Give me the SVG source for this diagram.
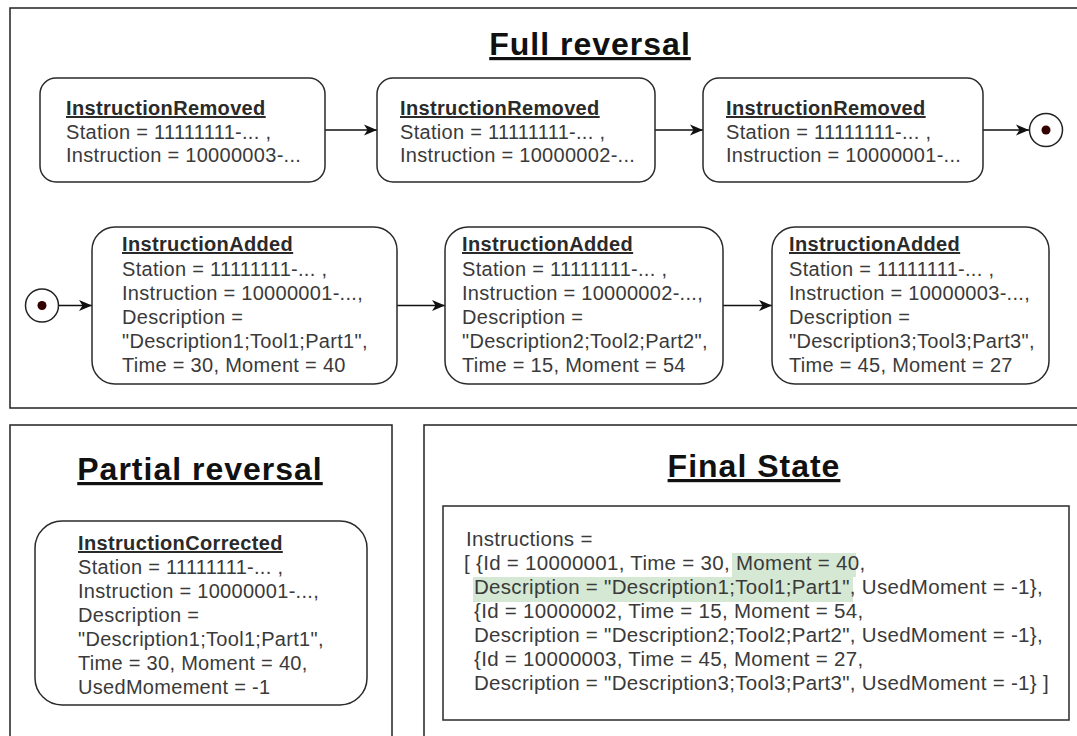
<svg xmlns="http://www.w3.org/2000/svg" width="1077" height="736" viewBox="0 0 1077 736">
<style>
.sec{fill:#fff;stroke:#222;stroke-width:1.5}
.box{fill:#fff;stroke:#2a2a2a;stroke-width:1.5}
.h{font-family:"Liberation Sans",Arial,sans-serif;font-weight:bold;font-size:32px;fill:#111;text-decoration:underline;letter-spacing:1px}
.t{font-family:"Liberation Sans",Arial,sans-serif;font-size:20px;fill:#3a3a3a;letter-spacing:0.3px}
.tb{font-weight:bold;text-decoration:underline;fill:#2a2a2a;letter-spacing:0.35px}
.f{font-family:"Liberation Sans",Arial,sans-serif;font-size:20.5px;fill:#3a3a3a;letter-spacing:0.3px}
.con{stroke:#111;stroke-width:1.5;fill:none}
.ring{fill:#fff;stroke:#222;stroke-width:1.5}
.dot{fill:#330000}
</style>
<defs>
<marker id="arr" markerWidth="14" markerHeight="12" refX="13" refY="6" orient="auto" markerUnits="userSpaceOnUse">
<path d="M0,0.5 L13,6 L0,11.5 L3.5,6 z" fill="#111"/>
</marker>
</defs>
<rect width="1077" height="736" fill="#fff"/>
<g id="sections">
<rect class="sec" x="10" y="8" width="1090" height="400"/>
<rect class="sec" x="10" y="425" width="382" height="400"/>
<rect class="sec" x="424" y="425" width="700" height="400"/>
<text class="h" x="590" y="55" text-anchor="middle">Full reversal</text>
<text class="h" x="200" y="480" text-anchor="middle">Partial reversal</text>
<text class="h" x="754" y="477" text-anchor="middle">Final State</text>
</g>
<g id="connectors">
<line class="con" x1="325" y1="130" x2="377" y2="130" marker-end="url(#arr)"/>
<line class="con" x1="655" y1="130" x2="703" y2="130" marker-end="url(#arr)"/>
<line class="con" x1="983" y1="130" x2="1029" y2="130" marker-end="url(#arr)"/>
<line class="con" x1="59" y1="305.5" x2="92" y2="305.5" marker-end="url(#arr)"/>
<line class="con" x1="397" y1="305.5" x2="445" y2="305.5" marker-end="url(#arr)"/>
<line class="con" x1="723" y1="305.5" x2="772" y2="305.5" marker-end="url(#arr)"/>
</g>
<g id="removed3">
<rect class="box" x="40" y="78" width="285" height="104" rx="16"/>
<text class="t" x="66" y="115"><tspan class="tb">InstructionRemoved</tspan><tspan x="66" y="139">Station = 11111111-... ,</tspan><tspan x="66" y="162">Instruction = 10000003-...</tspan></text>
</g>
<g id="removed2">
<rect class="box" x="377" y="78" width="278" height="104" rx="16"/>
<text class="t" x="400" y="115"><tspan class="tb">InstructionRemoved</tspan><tspan x="400" y="139">Station = 11111111-... ,</tspan><tspan x="400" y="162">Instruction = 10000002-...</tspan></text>
</g>
<g id="removed1">
<rect class="box" x="703" y="78" width="280" height="104" rx="16"/>
<text class="t" x="726" y="115"><tspan class="tb">InstructionRemoved</tspan><tspan x="726" y="139">Station = 11111111-... ,</tspan><tspan x="726" y="162">Instruction = 10000001-...</tspan></text>
</g>
<g id="end">
<circle class="ring" cx="1046" cy="130" r="16.5"/>
<circle class="dot" cx="1046" cy="130" r="4.5"/>
</g>
<g id="start">
<circle class="ring" cx="42" cy="305.5" r="16.5"/>
<circle class="dot" cx="42" cy="305.5" r="4.5"/>
</g>
<g id="added1">
<rect class="box" x="92" y="227" width="305" height="157" rx="23"/>
<text class="t" x="122" y="251"><tspan class="tb">InstructionAdded</tspan><tspan x="122" y="276">Station = 11111111-... ,</tspan><tspan x="122" y="300">Instruction = 10000001-...,</tspan><tspan x="122" y="324">Description =</tspan><tspan x="122" y="348">"Description1;Tool1;Part1",</tspan><tspan x="122" y="372">Time = 30, Moment = 40</tspan></text>
</g>
<g id="added2">
<rect class="box" x="445" y="227" width="278" height="157" rx="23"/>
<text class="t" x="462" y="251"><tspan class="tb">InstructionAdded</tspan><tspan x="462" y="276">Station = 11111111-... ,</tspan><tspan x="462" y="300">Instruction = 10000002-...,</tspan><tspan x="462" y="324">Description =</tspan><tspan x="462" y="348">"Description2;Tool2;Part2",</tspan><tspan x="462" y="372">Time = 15, Moment = 54</tspan></text>
</g>
<g id="added3">
<rect class="box" x="772" y="227" width="277" height="157" rx="23"/>
<text class="t" x="789" y="251"><tspan class="tb">InstructionAdded</tspan><tspan x="789" y="276">Station = 11111111-... ,</tspan><tspan x="789" y="300">Instruction = 10000003-...,</tspan><tspan x="789" y="324">Description =</tspan><tspan x="789" y="348">"Description3;Tool3;Part3",</tspan><tspan x="789" y="372">Time = 45, Moment = 27</tspan></text>
</g>
<g id="corrected">
<rect class="box" x="35" y="521" width="332" height="184" rx="27"/>
<text class="t" x="78" y="550"><tspan class="tb">InstructionCorrected</tspan><tspan x="78" y="574">Station = 11111111-... ,</tspan><tspan x="78" y="598">Instruction = 10000001-...,</tspan><tspan x="78" y="622">Description =</tspan><tspan x="78" y="646">"Description1;Tool1;Part1",</tspan><tspan x="78" y="670">Time = 30, Moment = 40,</tspan><tspan x="78" y="694">UsedMomement = -1</tspan></text>
</g>
<g id="finalstate">
<rect class="box" x="443" y="506" width="626" height="214"/>
<rect x="732" y="553" width="124" height="24" fill="#d5e8d4"/>
<rect x="473" y="577" width="380" height="25" fill="#d5e8d4"/>
<text class="f" x="466" y="546">Instructions =<tspan x="464" y="570">[ {Id = 10000001, Time = 30, Moment = 40,</tspan><tspan x="474" y="594">Description = "Description1;Tool1;Part1", UsedMoment = -1},</tspan><tspan x="474" y="618">{Id = 10000002, Time = 15, Moment = 54,</tspan><tspan x="474" y="642">Description = "Description2;Tool2;Part2", UsedMoment = -1},</tspan><tspan x="474" y="666">{Id = 10000003, Time = 45, Moment = 27,</tspan><tspan x="474" y="690">Description = "Description3;Tool3;Part3", UsedMoment = -1} ]</tspan></text>
</g>
</svg>
